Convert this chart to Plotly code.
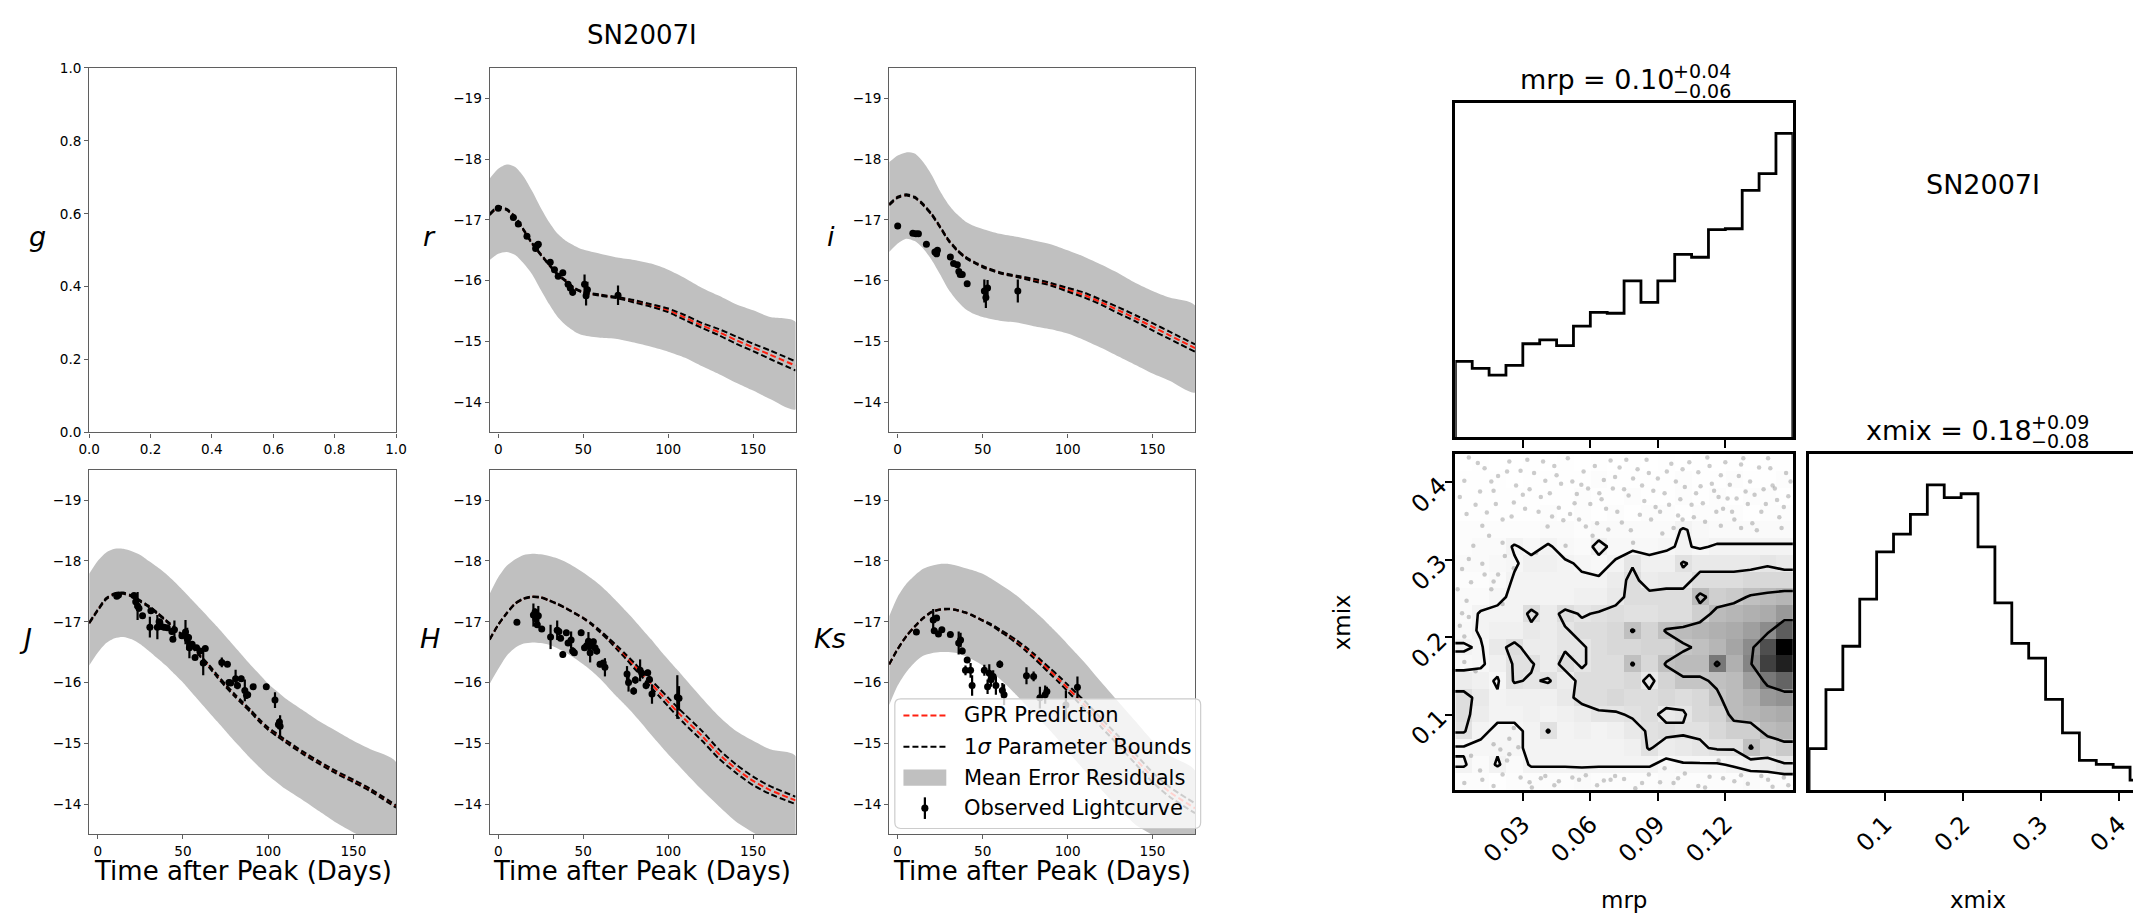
import numpy as np
import plotly.graph_objects as go

FIG_W, FIG_H = 2144, 921
FONT = "DejaVu Sans"
FRAME = "rgb(95,95,95)"


def fx(px):
    return px / FIG_W


def fy(py):
    return 1 - py / FIG_H


# ---------------------------------------------------------------- light curves
days_opt = [-5, 0, 5, 10, 15, 20, 25, 30, 35, 40, 45, 50, 60, 70, 80, 90, 100,
            110, 120, 130, 140, 150, 160, 175]
days_nir = [-5, 0, 5, 10, 15, 20, 25, 30, 35, 40, 45, 50, 55, 60, 65, 70, 75,
            80, 85, 90, 95, 100, 105, 110, 120, 130, 140, 150, 160, 175]

# r band
r_gpr = [-17.09, -17.21, -17.17, -17.04, -16.83, -16.61, -16.43, -16.26, -16.10, -15.99, -15.87, -15.81,
         -15.76, -15.72, -15.66, -15.59, -15.51, -15.39, -15.26, -15.15, -15.02, -14.90, -14.78, -14.60]
r_hi = [-17.10, -17.22, -17.18, -17.05, -16.84, -16.62, -16.44, -16.27, -16.11, -16.00, -15.88, -15.82,
        -15.77, -15.73, -15.68, -15.61, -15.54, -15.43, -15.30, -15.20, -15.08, -14.96, -14.85, -14.67]
r_lo = [-17.08, -17.20, -17.16, -17.03, -16.82, -16.60, -16.42, -16.25, -16.09, -15.98, -15.86, -15.80,
        -15.75, -15.71, -15.64, -15.57, -15.48, -15.35, -15.22, -15.10, -14.96, -14.84, -14.71, -14.52]
r_band_top = [-17.68, -17.84, -17.91, -17.87, -17.71, -17.47, -17.20, -16.96, -16.77, -16.65, -16.57, -16.51,
              -16.44, -16.38, -16.34, -16.28, -16.18, -16.04, -15.88, -15.75, -15.61, -15.51, -15.40, -15.32]
r_band_bot = [-16.34, -16.44, -16.47, -16.42, -16.28, -16.10, -15.85, -15.61, -15.40, -15.26, -15.16, -15.10,
              -15.06, -15.04, -14.98, -14.91, -14.83, -14.73, -14.59, -14.46, -14.32, -14.19, -14.05, -13.88]
r_obs_day = [0, 8.9, 11.8, 16.9, 22.0, 22.9, 23.6, 30.6, 33.1, 35.3, 38.0, 41.1, 42.4, 43.8, 50.8, 51.7, 52.5, 70.5]
r_obs_mag = [-17.19, -17.04, -16.93, -16.73, -16.53, -16.58, -16.60, -16.30, -16.18, -16.07, -16.13, -15.94,
             -15.88, -15.81, -15.94, -15.75, -15.85, -15.76]
r_obs_err = [0.02, 0.03, 0.03, 0.03, 0.04, 0.03, 0.03, 0.03, 0.03, 0.04, 0.03, 0.05, 0.04, 0.06, 0.16, 0.16,
             0.13, 0.16]

# i band
i_gpr = [-17.25, -17.37, -17.41, -17.37, -17.25, -17.09, -16.88, -16.66, -16.50, -16.38, -16.30, -16.23,
         -16.13, -16.07, -16.01, -15.94, -15.85, -15.76, -15.64, -15.51, -15.38, -15.24, -15.10, -14.89]
i_hi = [-17.26, -17.38, -17.42, -17.38, -17.26, -17.10, -16.89, -16.67, -16.51, -16.39, -16.31, -16.24,
        -16.14, -16.08, -16.03, -15.96, -15.88, -15.80, -15.68, -15.56, -15.43, -15.30, -15.16, -14.95]
i_lo = [-17.24, -17.36, -17.40, -17.36, -17.24, -17.08, -16.87, -16.65, -16.49, -16.37, -16.29, -16.22,
        -16.12, -16.06, -15.99, -15.92, -15.82, -15.72, -15.60, -15.46, -15.33, -15.18, -15.04, -14.83]
i_band_top = [-17.95, -18.06, -18.11, -18.09, -17.95, -17.74, -17.47, -17.25, -17.09, -16.97, -16.90, -16.85,
              -16.77, -16.72, -16.66, -16.60, -16.50, -16.39, -16.26, -16.12, -15.96, -15.83, -15.72, -15.59]
i_band_bot = [-16.47, -16.61, -16.69, -16.65, -16.53, -16.34, -16.10, -15.85, -15.67, -15.53, -15.45, -15.40,
              -15.34, -15.31, -15.25, -15.20, -15.13, -15.02, -14.89, -14.75, -14.61, -14.47, -14.35, -14.16]
i_obs_day = [0, 8.9, 10.7, 12.2, 16.9, 21.9, 22.9, 23.4, 31.0, 32.9, 35.1, 36.0, 36.8, 38.0, 40.9, 51.0, 51.9,
             52.9, 70.7]
i_obs_mag = [-16.90, -16.78, -16.77, -16.77, -16.60, -16.47, -16.44, -16.50, -16.39, -16.28, -16.26, -16.15,
             -16.10, -16.10, -15.95, -15.83, -15.72, -15.88, -15.83]
i_obs_err = [0.02, 0.02, 0.02, 0.02, 0.02, 0.03, 0.03, 0.03, 0.02, 0.03, 0.03, 0.03, 0.03, 0.03, 0.03, 0.19,
             0.17, 0.13, 0.19]

# J band
J_gpr = [-16.98, -17.19, -17.38, -17.46, -17.47, -17.42, -17.34, -17.25, -17.14, -17.02, -16.90, -16.76, -16.60,
         -16.44, -16.28, -16.11, -15.95, -15.80, -15.66, -15.52, -15.37, -15.24, -15.14, -15.04, -14.85, -14.68,
         -14.52, -14.38, -14.23, -13.96]
J_hi = [-16.99, -17.20, -17.39, -17.47, -17.48, -17.43, -17.35, -17.26, -17.15, -17.03, -16.91, -16.77, -16.61,
        -16.45, -16.30, -16.13, -15.97, -15.82, -15.68, -15.54, -15.39, -15.26, -15.16, -15.06, -14.87, -14.70,
        -14.54, -14.40, -14.25, -13.98]
J_lo = [-16.97, -17.18, -17.37, -17.45, -17.46, -17.41, -17.33, -17.24, -17.13, -17.01, -16.89, -16.75, -16.59,
        -16.43, -16.26, -16.09, -15.93, -15.78, -15.64, -15.50, -15.35, -15.22, -15.12, -15.02, -14.83, -14.66,
        -14.50, -14.36, -14.21, -13.94]
J_band_top = [-17.79, -18.00, -18.14, -18.20, -18.20, -18.16, -18.10, -18.00, -17.90, -17.79, -17.66, -17.52,
              -17.37, -17.22, -17.07, -16.92, -16.76, -16.60, -16.44, -16.28, -16.13, -15.98, -15.86, -15.74,
              -15.55, -15.36, -15.20, -15.04, -14.90, -14.69]
J_band_bot = [-16.28, -16.49, -16.65, -16.73, -16.75, -16.71, -16.63, -16.52, -16.40, -16.28, -16.14, -16.00,
              -15.84, -15.68, -15.52, -15.36, -15.20, -15.04, -14.89, -14.74, -14.60, -14.47, -14.36, -14.25,
              -14.07, -13.88, -13.69, -13.53, -13.38, -13.18]
J_obs_day = [11.2, 12.2, 21.3, 22.3, 23.4, 24.2, 26.3, 31.2, 30.6, 36.0, 35.0, 37.4, 36.4, 38.9, 40.8, 43.5,
             44.1, 45.0, 49.4, 51.5, 52.5, 53.3, 53.8, 55.4, 57.1, 58.0, 60.0, 61.9, 63.1, 72.8, 76.1, 77.0,
             78.0, 80.9, 82.0, 84.2, 86.3, 87.3, 88.0, 91.2, 98.9, 104.0, 106.0, 107.0, 106.6]
J_obs_mag = [-17.42, -17.44, -17.43, -17.33, -17.26, -17.22, -17.10, -17.18, -16.91, -17.00, -16.91, -16.92,
             -16.99, -16.91, -16.90, -16.84, -16.71, -16.87, -16.77, -16.83, -16.72, -16.74, -16.57, -16.63,
             -16.41, -16.57, -16.52, -16.32, -16.56, -16.33, -16.30, -16.00, -15.99, -16.06, -15.95, -16.06,
             -15.87, -15.79, -15.80, -15.93, -15.93, -15.71, -15.31, -15.28, -15.35]
J_obs_err = [0.03, 0.03, 0.03, 0.10, 0.23, 0.05, 0.03, 0.03, 0.17, 0.04, 0.20, 0.05, 0.04, 0.05, 0.04, 0.05,
             0.04, 0.15, 0.04, 0.20, 0.18, 0.06, 0.17, 0.04, 0.04, 0.04, 0.04, 0.20, 0.04, 0.08, 0.04, 0.04,
             0.04, 0.15, 0.06, 0.05, 0.18, 0.06, 0.05, 0.04, 0.05, 0.13, 0.05, 0.18, 0.06]

# H band
H_gpr = [-16.71, -16.95, -17.14, -17.30, -17.38, -17.41, -17.40, -17.35, -17.29, -17.22, -17.14, -17.06, -16.96,
         -16.84, -16.71, -16.57, -16.43, -16.28, -16.13, -15.98, -15.83, -15.68, -15.53, -15.39, -15.12, -14.82,
         -14.58, -14.38, -14.23, -14.06]
H_hi = [-16.715, -16.955, -17.145, -17.305, -17.385, -17.415, -17.405, -17.355, -17.295, -17.225, -17.145,
        -17.065, -16.97, -16.855, -16.73, -16.60, -16.465, -16.325, -16.18, -16.04, -15.895, -15.75, -15.605,
        -15.47, -15.20, -14.895, -14.65, -14.45, -14.295, -14.12]
H_lo = [-16.705, -16.945, -17.135, -17.295, -17.375, -17.405, -17.395, -17.345, -17.285, -17.215, -17.135,
        -17.055, -16.95, -16.825, -16.69, -16.54, -16.395, -16.235, -16.08, -15.92, -15.765, -15.61, -15.455,
        -15.31, -15.04, -14.745, -14.51, -14.31, -14.165, -14.00]
H_band_top = [-17.46, -17.73, -17.92, -18.03, -18.10, -18.12, -18.11, -18.08, -18.04, -17.98, -17.90, -17.81,
              -17.71, -17.60, -17.47, -17.33, -17.18, -17.03, -16.87, -16.71, -16.54, -16.38, -16.22, -16.06,
              -15.74, -15.44, -15.20, -15.04, -14.90, -14.79]
H_band_bot = [-15.98, -16.22, -16.44, -16.57, -16.64, -16.66, -16.65, -16.62, -16.56, -16.49, -16.40, -16.30,
              -16.19, -16.06, -15.91, -15.76, -15.62, -15.47, -15.31, -15.14, -14.98, -14.82, -14.67, -14.52,
              -14.23, -13.96, -13.71, -13.53, -13.35, -13.15]
H_obs_day = [11.0, 20.7, 21.7, 22.1, 23.0, 23.6, 25.6, 30.8, 34.7, 35.7, 36.7, 38.0, 40.1, 41.1, 42.9, 43.8,
             44.8, 48.8, 50.8, 52.1, 53.1, 54.1, 55.0, 56.0, 57.0, 58.0, 59.9, 61.8, 62.8, 75.8, 76.7, 79.7,
             80.7, 83.5, 84.5, 87.0, 88.0, 89.0, 90.5, 105.4, 106.4]
H_obs_mag = [-16.99, -17.11, -17.16, -17.05, -16.95, -17.10, -16.88, -16.75, -16.86, -16.84, -16.73, -16.46,
             -16.82, -16.65, -16.70, -16.52, -16.49, -16.82, -16.57, -16.61, -16.68, -16.49, -16.60, -16.67,
             -16.57, -16.52, -16.30, -16.32, -16.25, -16.14, -16.00, -15.86, -16.04, -16.20, -16.15, -15.95,
             -16.16, -16.05, -15.81, -15.76, -15.74]
H_obs_err = [0.03, 0.19, 0.06, 0.12, 0.05, 0.16, 0.03, 0.20, 0.16, 0.06, 0.05, 0.05, 0.04, 0.05, 0.14, 0.06,
             0.05, 0.05, 0.05, 0.05, 0.15, 0.16, 0.05, 0.05, 0.05, 0.06, 0.05, 0.05, 0.15, 0.13, 0.15, 0.06,
             0.06, 0.18, 0.06, 0.06, 0.05, 0.06, 0.16, 0.36, 0.20]

# Ks band
Ks_gpr = [-16.30, -16.55, -16.76, -16.92, -17.06, -17.16, -17.20, -17.21, -17.19, -17.15, -17.09, -17.02, -16.95,
          -16.86, -16.77, -16.67, -16.56, -16.44, -16.31, -16.18, -16.05, -15.91, -15.77, -15.63, -15.33, -15.04,
          -14.74, -14.44, -14.20, -13.93]
Ks_hi = [-16.305, -16.555, -16.765, -16.925, -17.065, -17.165, -17.205, -17.215, -17.195, -17.155, -17.095,
         -17.025, -16.96, -16.875, -16.79, -16.695, -16.59, -16.475, -16.35, -16.225, -16.10, -15.965, -15.83,
         -15.695, -15.40, -15.115, -14.82, -14.52, -14.28, -14.01]
Ks_lo = [-16.295, -16.545, -16.755, -16.915, -17.055, -17.155, -17.195, -17.205, -17.185, -17.145, -17.085,
         -17.015, -16.94, -16.845, -16.75, -16.645, -16.53, -16.405, -16.27, -16.135, -16.00, -15.855, -15.71,
         -15.565, -15.26, -14.965, -14.66, -14.36, -14.12, -13.85]
Ks_band_top = [-17.09, -17.41, -17.62, -17.76, -17.87, -17.92, -17.95, -17.95, -17.92, -17.88, -17.84, -17.79,
               -17.71, -17.62, -17.53, -17.43, -17.31, -17.19, -17.06, -16.92, -16.78, -16.63, -16.48, -16.33,
               -16.00, -15.68, -15.36, -15.04, -14.80, -14.55]
Ks_band_bot = [-15.63, -15.95, -16.17, -16.33, -16.44, -16.48, -16.50, -16.50, -16.48, -16.43, -16.36, -16.28,
               -16.18, -16.06, -15.93, -15.79, -15.64, -15.49, -15.35, -15.20, -15.04, -14.87, -14.71, -14.55,
               -14.23, -13.93, -13.66, -13.49, -13.30, -13.10]
Ks_obs_day = [11.0, 20.9, 21.5, 22.9, 24.0, 26.0, 31.0, 35.9, 37.0, 38.0, 40.9, 39.9, 42.9, 43.8, 51.0, 52.9,
              53.9, 54.9, 56.2, 57.8, 60.1, 61.6, 62.6, 75.8, 80.0, 83.7, 86.8, 87.8, 99.0, 105.8]
Ks_obs_mag = [-16.83, -17.03, -16.85, -17.06, -16.80, -16.87, -16.79, -16.65, -16.70, -16.52, -16.37, -16.20,
              -16.20, -15.95, -16.20, -15.93, -16.15, -16.05, -16.10, -15.95, -16.30, -15.87, -15.80, -16.11,
              -16.10, -15.75, -15.80, -15.85, -15.63, -15.92]
Ks_obs_err = [0.03, 0.18, 0.05, 0.05, 0.05, 0.04, 0.04, 0.19, 0.12, 0.05, 0.05, 0.08, 0.12, 0.17, 0.09, 0.12,
              0.15, 0.12, 0.10, 0.15, 0.06, 0.12, 0.17, 0.14, 0.08, 0.18, 0.15, 0.08, 0.24, 0.18]

legend_labels = ["GPR Prediction", "1<i>σ</i> Parameter Bounds", "Mean Error Residuals", "Observed Lightcurve"]

# ---------------------------------------------------------------- posterior
mrp_range = [0.0, 0.15]
xmix_range = [0.003, 0.436]
mrp_ticks = [0.03, 0.06, 0.09, 0.12]
xmix_ticks = [0.1, 0.2, 0.3, 0.4]

mrp_counts = [77, 70, 63, 73, 95, 99, 93, 113, 127, 126, 159, 137, 159, 186, 183, 211, 212, 251, 268, 309]
xmix_counts = [42, 102, 146, 194, 242, 260, 280, 310, 297, 301, 247, 190, 149, 134, 92, 58, 30, 26, 23, 10]

# 2-D histogram counts, rows listed from the highest xmix bin down to the lowest,
# columns from low to high mrp
density_rows = [
    [0, 1, 0, 0, 1, 0, 1, 0, 1, 0, 1, 0, 1, 0, 1, 0, 1, 0, 1, 1],
    [1, 1, 1, 0, 1, 1, 1, 1, 2, 1, 1, 1, 1, 2, 1, 1, 2, 1, 1, 2],
    [1, 1, 1, 1, 1, 1, 1, 2, 1, 1, 2, 1, 1, 2, 1, 2, 1, 2, 2, 1],
    [1, 1, 1, 1, 1, 2, 1, 2, 1, 2, 1, 2, 2, 1, 2, 2, 2, 1, 2, 2],
    [2, 2, 2, 2, 2, 3, 3, 2, 3, 3, 3, 3, 3, 6, 4, 3, 3, 3, 3, 3],
    [2, 3, 3, 6, 4, 6, 4, 3, 7, 4, 4, 4, 5, 6, 5, 6, 6, 6, 6, 6],
    [3, 3, 4, 5, 7, 7, 6, 5, 4, 6, 10, 7, 7, 11, 9, 9, 9, 9, 10, 9],
    [2, 2, 3, 6, 6, 6, 6, 6, 6, 8, 12, 8, 9, 9, 12, 12, 12, 13, 13, 13],
    [3, 3, 5, 6, 6, 6, 6, 7, 7, 9, 12, 12, 12, 12, 19, 15, 16, 18, 19, 20],
    [3, 6, 6, 6, 12, 8, 12, 10, 11, 12, 11, 11, 12, 12, 15, 19, 20, 21, 22, 25],
    [4, 6, 7, 7, 9, 8, 10, 12, 12, 13, 18, 14, 18, 19, 20, 21, 22, 24, 27, 34],
    [6, 5, 9, 12, 8, 8, 10, 10, 12, 13, 13, 14, 14, 17, 18, 20, 23, 27, 36, 46],
    [4, 5, 7, 11, 11, 8, 12, 10, 12, 12, 18, 13, 18, 19, 19, 30, 21, 28, 38, 42],
    [8, 7, 5, 11, 10, 11, 8, 12, 12, 12, 13, 9, 14, 17, 17, 18, 19, 24, 30, 33],
    [12, 9, 6, 7, 7, 7, 9, 12, 12, 13, 12, 12, 13, 12, 13, 17, 19, 21, 25, 26],
    [12, 8, 6, 6, 7, 6, 7, 8, 10, 10, 11, 12, 9, 10, 13, 14, 19, 20, 21, 22],
    [11, 6, 5, 5, 6, 11, 6, 7, 6, 7, 9, 11, 12, 11, 11, 13, 15, 15, 19, 20],
    [5, 5, 5, 5, 6, 6, 6, 6, 6, 6, 7, 11, 8, 9, 10, 11, 11, 18, 14, 16],
    [6, 3, 6, 3, 6, 6, 6, 6, 6, 6, 6, 6, 4, 5, 5, 5, 6, 7, 8, 10],
    [2, 2, 1, 2, 2, 2, 2, 3, 2, 2, 2, 2, 3, 2, 2, 2, 2, 3, 2, 2],
]
contour_levels = [5.5, 10.5, 17.5, 28.5]

# individual posterior samples lying outside the lowest contour
sample_mrp = [
    0.004, 0.009, 0.013, 0.017, 0.021, 0.024, 0.027, 0.031, 0.035, 0.038, 0.041, 0.044, 0.047, 0.051, 0.054,
    0.057, 0.060, 0.063, 0.066, 0.069, 0.072, 0.075, 0.078, 0.081, 0.084, 0.087, 0.090, 0.093, 0.096, 0.099,
    0.102, 0.105, 0.108, 0.111, 0.114, 0.117, 0.120, 0.123, 0.126, 0.129, 0.132, 0.135, 0.138, 0.141, 0.144,
    0.147, 0.006, 0.011, 0.019, 0.026, 0.033, 0.039, 0.046, 0.052, 0.059, 0.065, 0.071, 0.077, 0.083, 0.089,
    0.095, 0.101, 0.107, 0.113, 0.119, 0.125, 0.131, 0.137, 0.143, 0.148, 0.014, 0.029, 0.043, 0.058, 0.073,
    0.086, 0.097, 0.116, 0.128, 0.140, 0.008, 0.015, 0.022, 0.021, 0.036, 0.049, 0.061, 0.068, 0.079, 0.092,
    0.101, 0.118, 0.127, 0.134, 0.145, 0.003, 0.007, 0.012, 0.005, 0.006, 0.017, 0.019, 0.002, 0.004, 0.026,
    0.004, 0.009, 0.021, 0.016, 0.004, 0.011, 0.017, 0.023, 0.029, 0.034, 0.040, 0.046, 0.052, 0.058, 0.063,
    0.069, 0.075, 0.080, 0.086, 0.091, 0.097, 0.102, 0.108, 0.113, 0.119, 0.124, 0.130, 0.136, 0.141, 0.146,
    0.020, 0.028, 0.017, 0.026, 0.038, 0.007, 0.066, 0.093, 0.117,
    0.002, 0.005, 0.010, 0.012, 0.016, 0.018, 0.023, 0.025, 0.030, 0.032, 0.037, 0.040, 0.042, 0.045, 0.048,
    0.050, 0.053, 0.055, 0.056, 0.062, 0.064, 0.067, 0.070, 0.074, 0.076, 0.079, 0.082, 0.085, 0.088, 0.091,
    0.094, 0.098, 0.100, 0.104, 0.106, 0.109, 0.110, 0.112, 0.115, 0.118, 0.121, 0.122, 0.124, 0.127, 0.130,
    0.133, 0.136, 0.139, 0.142, 0.146, 0.149, 0.001, 0.006, 0.013, 0.003, 0.012, 0.021, 0.033, 0.044, 0.055,
    0.071, 0.083, 0.099, 0.111, 0.127, 0.139, 0.148, 0.024, 0.024,
]
sample_xmix = [
    0.402, 0.371, 0.418, 0.389, 0.352, 0.427, 0.396, 0.366, 0.412, 0.381, 0.343, 0.421, 0.398, 0.359, 0.385,
    0.414, 0.372, 0.347, 0.403, 0.428, 0.362, 0.391, 0.338, 0.417, 0.376, 0.352, 0.405, 0.386, 0.424, 0.357,
    0.394, 0.371, 0.413, 0.349, 0.398, 0.381, 0.426, 0.362, 0.408, 0.388, 0.347, 0.419, 0.372, 0.396, 0.355,
    0.412, 0.432, 0.388, 0.408, 0.374, 0.391, 0.427, 0.367, 0.401, 0.392, 0.378, 0.407, 0.383, 0.396, 0.368,
    0.371, 0.417, 0.386, 0.421, 0.366, 0.379, 0.401, 0.391, 0.377, 0.382, 0.361, 0.415, 0.356, 0.343, 0.419,
    0.412, 0.341, 0.362, 0.431, 0.418, 0.318, 0.331, 0.305, 0.322, 0.309, 0.318, 0.331, 0.339, 0.322, 0.334,
    0.352, 0.344, 0.341, 0.338, 0.341, 0.288, 0.271, 0.295, 0.247, 0.226, 0.272, 0.281, 0.215, 0.201, 0.289,
    0.168, 0.156, 0.243, 0.262, 0.012, 0.028, 0.008, 0.041, 0.019, 0.006, 0.021, 0.014, 0.019, 0.022, 0.009,
    0.016, 0.017, 0.005, 0.023, 0.013, 0.012, 0.024, 0.008, 0.020, 0.018, 0.014, 0.011, 0.021, 0.007, 0.019,
    0.055, 0.058, 0.062, 0.083, 0.018, 0.047, 0.015, 0.031, 0.041,
    0.381, 0.359, 0.425, 0.344, 0.401, 0.372, 0.414, 0.356, 0.384, 0.429, 0.362, 0.402, 0.386, 0.409, 0.351,
    0.431, 0.373, 0.352, 0.397, 0.421, 0.386, 0.366, 0.392, 0.348, 0.429, 0.405, 0.358, 0.429, 0.389, 0.362,
    0.414, 0.401, 0.378, 0.426, 0.355, 0.395, 0.373, 0.432, 0.389, 0.409, 0.379, 0.397, 0.352, 0.423, 0.372,
    0.384, 0.362, 0.431, 0.392, 0.368, 0.401, 0.262, 0.301, 0.281, 0.231, 0.016, 0.023, 0.013, 0.009, 0.016,
    0.021, 0.012, 0.018, 0.006, 0.022, 0.016, 0.009, 0.049, 0.069,
]

# ---------------------------------------------------------------- figure
fig = go.Figure()


def ax_names(n):
    s = "" if n == 1 else str(n)
    return "x" + s, "y" + s, "xaxis" + s, "yaxis" + s


DASH = "6px,3px"


def add_lightcurve(n, days, band_top, band_bot, gpr, hi, lo, od, om, oe):
    xa, ya, _, _ = ax_names(n)
    fig.add_trace(go.Scatter(
        x=list(days) + list(days)[::-1], y=list(band_top) + list(band_bot)[::-1],
        fill="toself", fillcolor="#c0c0c0", mode="lines",
        line=dict(width=0, shape="spline", smoothing=0.7),
        name=legend_labels[2], xaxis=xa, yaxis=ya, hoverinfo="skip"))
    fig.add_trace(go.Scatter(
        x=days, y=gpr, mode="lines",
        line=dict(color="#ff2010", width=2, dash=DASH, shape="spline", smoothing=0.7),
        name=legend_labels[0], xaxis=xa, yaxis=ya, hoverinfo="skip"))
    for yy in (hi, lo):
        fig.add_trace(go.Scatter(
            x=days, y=yy, mode="lines",
            line=dict(color="black", width=2, dash=DASH, shape="spline", smoothing=0.7),
            name=legend_labels[1], xaxis=xa, yaxis=ya, hoverinfo="skip"))
    fig.add_trace(go.Scatter(
        x=od, y=om, mode="markers",
        marker=dict(color="black", size=7),
        error_y=dict(type="data", array=oe, color="black", thickness=2.2, width=0),
        name=legend_labels[3], xaxis=xa, yaxis=ya, hoverinfo="skip"))


add_lightcurve(2, days_opt, r_band_top, r_band_bot, r_gpr, r_hi, r_lo, r_obs_day, r_obs_mag, r_obs_err)
add_lightcurve(3, days_opt, i_band_top, i_band_bot, i_gpr, i_hi, i_lo, i_obs_day, i_obs_mag, i_obs_err)
add_lightcurve(4, days_nir, J_band_top, J_band_bot, J_gpr, J_hi, J_lo, J_obs_day, J_obs_mag, J_obs_err)
add_lightcurve(5, days_nir, H_band_top, H_band_bot, H_gpr, H_hi, H_lo, H_obs_day, H_obs_mag, H_obs_err)
add_lightcurve(6, days_nir, Ks_band_top, Ks_band_bot, Ks_gpr, Ks_hi, Ks_lo, Ks_obs_day, Ks_obs_mag, Ks_obs_err)
# empty g-band panel still needs a trace to show its axes
fig.add_trace(go.Scatter(x=[], y=[], xaxis="x", yaxis="y"))

# ---- 1-D marginal histograms (step outlines)
mrp_edges = np.linspace(mrp_range[0], mrp_range[1], len(mrp_counts) + 1)
xmix_edges = np.linspace(xmix_range[0], xmix_range[1], len(xmix_counts) + 1)


def step_outline(edges, counts):
    xs, ys = [edges[0]], [0]
    for k, c in enumerate(counts):
        xs += [edges[k], edges[k + 1]]
        ys += [c, c]
    xs.append(edges[-1])
    ys.append(0)
    return xs, ys


sx, sy = step_outline(mrp_edges, mrp_counts)
fig.add_trace(go.Scatter(x=sx, y=sy, mode="lines", line=dict(color="black", width=2.8),
                         xaxis="x7", yaxis="y7", hoverinfo="skip"))
sx, sy = step_outline(xmix_edges, xmix_counts)
fig.add_trace(go.Scatter(x=sx, y=sy, mode="lines", line=dict(color="black", width=2.8),
                         xaxis="x9", yaxis="y9", hoverinfo="skip"))

# ---- 2-D density, samples, contours
H = np.array(density_rows, dtype=float)[::-1]       # row 0 = lowest xmix bin
hmax = H.max()
gray_scale = [[t, "rgb({0},{0},{0})".format(int(round(255 * (1 - t ** 1.5))))] for t in np.linspace(0, 1, 21)]
fig.add_trace(go.Heatmap(x=mrp_edges, y=xmix_edges, z=H, zmin=0, zmax=hmax, colorscale=gray_scale,
                         showscale=False, xaxis="x8", yaxis="y8", hoverinfo="skip"))
fig.add_trace(go.Scatter(x=sample_mrp, y=sample_xmix, mode="markers",
                         marker=dict(color="rgba(0,0,0,0.2)", size=4.5, line=dict(width=0)),
                         xaxis="x8", yaxis="y8", hoverinfo="skip"))

# padded grid so contours run into the frame (edge bins repeated one step outside)
xc = 0.5 * (mrp_edges[1:] + mrp_edges[:-1])
yc = 0.5 * (xmix_edges[1:] + xmix_edges[:-1])
dx, dy = xc[1] - xc[0], yc[1] - yc[0]
x2 = np.concatenate([[xc[0] - 2 * dx, xc[0] - dx], xc, [xc[-1] + dx, xc[-1] + 2 * dx]])
y2 = np.concatenate([[yc[0] - 2 * dy, yc[0] - dy], yc, [yc[-1] + dy, yc[-1] + 2 * dy]])
H2 = np.full((H.shape[0] + 4, H.shape[1] + 4), H.min())
H2[2:-2, 2:-2] = H
H2[2:-2, 1] = H[:, 0]
H2[2:-2, -2] = H[:, -1]
H2[1, 2:-2] = H[0]
H2[-2, 2:-2] = H[-1]
H2[1, 1], H2[1, -2], H2[-2, 1], H2[-2, -2] = H[0, 0], H[0, -1], H[-1, 0], H[-1, -1]
for lev in contour_levels:
    fig.add_trace(go.Contour(x=x2, y=y2, z=H2, autocontour=False,
                             contours=dict(start=lev, end=lev, size=1, coloring="none", showlabels=False),
                             line=dict(color="black", width=2.6, smoothing=0),
                             showscale=False, xaxis="x8", yaxis="y8", hoverinfo="skip"))

# ---------------------------------------------------------------- axes
layout = {}
lc_common = dict(showline=True, mirror=True, linecolor=FRAME, linewidth=1.2, ticks="outside", ticklen=4,
                 tickwidth=1.2, tickcolor=FRAME, showgrid=False, zeroline=False,
                 tickfont=dict(family=FONT, size=13.6, color="black"))
col_px = [(79, 389), (483.7, 792.7), (887.3, 1196.3)]
row_px = [(61, 432), (470, 841)]
for n in range(1, 7):
    c = (n - 1) % 3
    r = (n - 1) // 3
    xa, ya, xk, yk = ax_names(n)
    xd = [fx(col_px[c][0]), fx(col_px[c][1])]
    yd = [fy(row_px[r][1]), fy(row_px[r][0])]
    if n == 1:
        layout[xk] = dict(domain=xd, anchor=ya, range=[0, 1], tickvals=[0, 0.2, 0.4, 0.6, 0.8, 1.0],
                          tickformat=".1f", **lc_common)
        layout[yk] = dict(domain=yd, anchor=xa, range=[0, 1], tickvals=[0, 0.2, 0.4, 0.6, 0.8, 1.0],
                          tickformat=".1f", **lc_common)
    else:
        layout[xk] = dict(domain=xd, anchor=ya, range=[-5, 175], tickvals=[0, 50, 100, 150], **lc_common)
        layout[yk] = dict(domain=yd, anchor=xa, range=[-13.5, -19.5], tickvals=[-19, -18, -17, -16, -15, -14],
                          **lc_common)

cp = dict(showline=True, linecolor="black", linewidth=2.6, ticklen=8, tickwidth=2.4,
          tickcolor="black", showgrid=False, zeroline=False, tickfont=dict(family=FONT, size=24, color="black"))
corner_x = [fx(1459.3), fx(1800.3)]
top_y = [fy(436.7), fy(96.7)]
mid_y = [fy(795.7), fy(454.3)]
panel_px = 341.4
xmix_vis = xmix_range[0] + (xmix_range[1] - xmix_range[0]) * (FIG_W - 1816.7) / panel_px

layout["xaxis7"] = dict(domain=corner_x, anchor="y7", range=mrp_range, tickvals=mrp_ticks, ticks="outside",
                        showticklabels=False, mirror=True, **cp)
layout["yaxis7"] = dict(domain=top_y, anchor="x7", range=[0, 1.1 * max(mrp_counts)], mirror=True,
                        showticklabels=False, ticks="", **cp)
layout["xaxis8"] = dict(domain=corner_x, anchor="y8", range=mrp_range, tickvals=mrp_ticks, ticks="outside",
                        ticktext=["0.03", "0.06", "0.09", "0.12"], tickangle=-45, mirror=True, **cp)
layout["yaxis8"] = dict(domain=mid_y, anchor="x8", range=xmix_range, tickvals=xmix_ticks, ticks="outside",
                        ticktext=["0.1", "0.2", "0.3", "0.4"], tickangle=-45, mirror=True, **cp)
layout["xaxis9"] = dict(domain=[fx(1816.7), 1.0], anchor="y9", range=[xmix_range[0], xmix_vis],
                        tickvals=xmix_ticks, ticktext=["0.1", "0.2", "0.3", "0.4"], tickangle=-45,
                        ticks="outside", mirror=True, **cp)
layout["yaxis9"] = dict(domain=mid_y, anchor="x9", range=[0, 1.1 * max(xmix_counts)], mirror=False,
                        showticklabels=False, ticks="", **cp)

# ---------------------------------------------------------------- text
ann = []
shapes = []


def label(text, px, py, size, **kw):
    d = dict(text=text, x=fx(px), y=fy(py), xref="paper", yref="paper", showarrow=False,
             xanchor=kw.pop("xanchor", "center"), yanchor=kw.pop("yanchor", "middle"),
             font=dict(family=FONT, size=size, color="black"))
    d.update(kw)
    ann.append(d)


label("SN2007I", 638, 27, 26)
label("SN2007I", 1992, 180, 27)
for txt, px, py in [("g", 27, 233), ("r", 423, 233), ("i", 828, 233),
                    ("J", 15, 642), ("H", 423, 642), ("Ks", 827, 642)]:
    label("<i>%s</i>" % txt, px, py, 27)
for px in (234, 638, 1042):
    label("Time after Peak (Days)", px, 878, 26)

label("mrp = 0.10", 1682, 73, 27, xanchor="right")
label("+0.04", 1677, 64, 19, xanchor="left")
label("\u22120.06", 1677, 84, 19, xanchor="left")
label("xmix = 0.18", 2044, 430, 27, xanchor="right")
label("+0.09", 2039, 421, 19, xanchor="left")
label("\u22120.08", 2039, 441, 19, xanchor="left")
label("xmix", 1345, 625, 23, textangle=-90)
label("mrp", 1630, 908, 23)
label("xmix", 1987, 908, 23)

# ---- legend box drawn in the Ks panel
lx0, lx1, ly0, ly1, rad = 893, 1202, 703, 835, 6


def P(px, py):
    return "%.6f,%.6f" % (fx(px), fy(py))


box_path = ("M" + P(lx0 + rad, ly0) + " L" + P(lx1 - rad, ly0) + " Q" + P(lx1, ly0) + " " + P(lx1, ly0 + rad)
            + " L" + P(lx1, ly1 - rad) + " Q" + P(lx1, ly1) + " " + P(lx1 - rad, ly1)
            + " L" + P(lx0 + rad, ly1) + " Q" + P(lx0, ly1) + " " + P(lx0, ly1 - rad)
            + " L" + P(lx0, ly0 + rad) + " Q" + P(lx0, ly0) + " " + P(lx0 + rad, ly0) + " Z")
shapes.append(dict(type="path", xref="paper", yref="paper", path=box_path, layer="above",
                   fillcolor="rgba(255,255,255,0.8)", line=dict(color="#cccccc", width=1.2)))
row_y = [720, 751.7, 783.3, 814.3]
sx0, sx1, text_x = 901.7, 945, 960.5
shapes.append(dict(type="line", xref="paper", yref="paper", x0=fx(sx0), x1=fx(sx1), y0=fy(row_y[0]),
                   y1=fy(row_y[0]), line=dict(color="#ff2010", width=2, dash=DASH), layer="above"))
shapes.append(dict(type="line", xref="paper", yref="paper", x0=fx(sx0), x1=fx(sx1), y0=fy(row_y[1]),
                   y1=fy(row_y[1]), line=dict(color="black", width=2, dash=DASH), layer="above"))
shapes.append(dict(type="rect", xref="paper", yref="paper", x0=fx(sx0), x1=fx(sx1), y0=fy(row_y[2] + 8.3),
                   y1=fy(row_y[2] - 8.3), fillcolor="#c0c0c0", line=dict(width=0), layer="above"))
mx = 0.5 * (sx0 + sx1)
shapes.append(dict(type="line", xref="paper", yref="paper", x0=fx(mx), x1=fx(mx), y0=fy(row_y[3] + 11),
                   y1=fy(row_y[3] - 11), line=dict(color="black", width=2.2), layer="above"))
shapes.append(dict(type="circle", xref="paper", yref="paper", x0=fx(mx - 3.6), x1=fx(mx + 3.6),
                   y0=fy(row_y[3] + 3.6), y1=fy(row_y[3] - 3.6), fillcolor="black", line=dict(width=0),
                   layer="above"))
for txt, yy in zip(legend_labels, row_y):
    label(txt, text_x, yy, 21, xanchor="left")

fig.update_layout(
    width=FIG_W, height=FIG_H, autosize=False,
    margin=dict(l=0, r=0, t=0, b=0, pad=0),
    paper_bgcolor="white", plot_bgcolor="white",
    font=dict(family=FONT, color="black"),
    showlegend=False,
    annotations=ann,
    shapes=shapes,
    **layout,
)

fig.write_html("out.html")
